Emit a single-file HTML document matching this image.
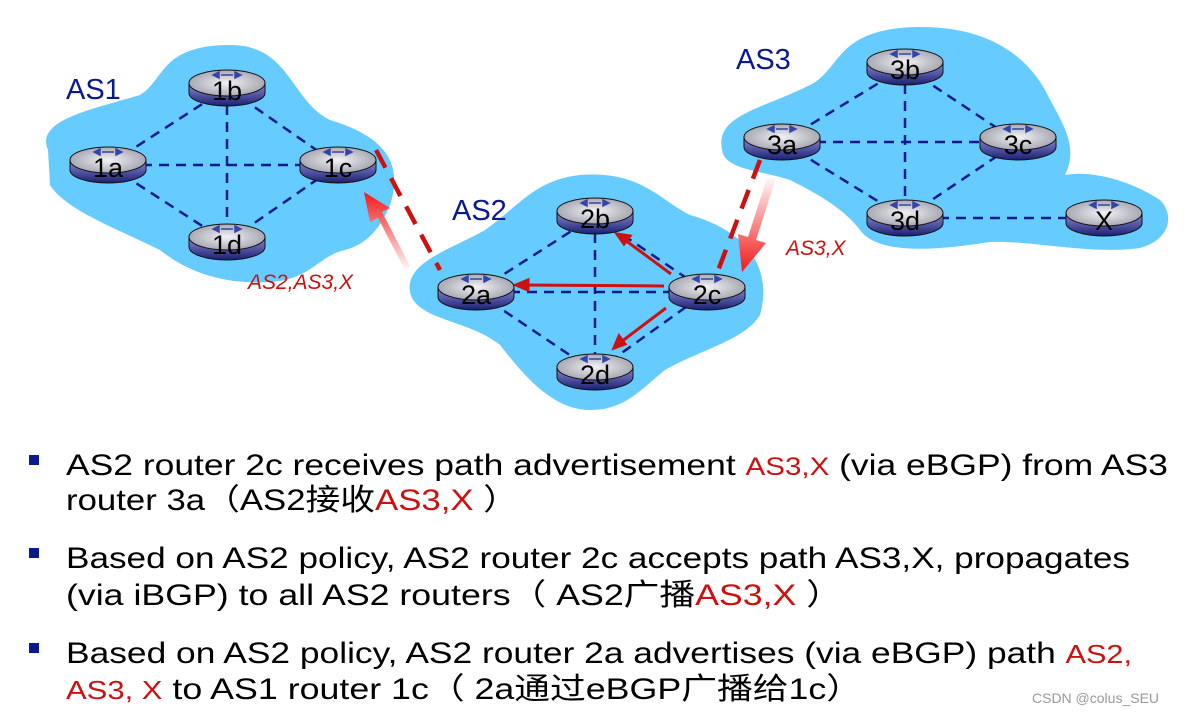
<!DOCTYPE html>
<html><head><meta charset="utf-8"><style>html,body{margin:0;padding:0;background:#fff}svg{display:block}</style></head><body>
<svg width="1192" height="717" viewBox="0 0 1192 717" xmlns="http://www.w3.org/2000/svg">
<defs>
<linearGradient id="rb" x1="0" y1="0" x2="0" y2="1"><stop offset="0" stop-color="#8a8fd8"/><stop offset="1" stop-color="#1c1f70"/></linearGradient>
<radialGradient id="rt" cx="0.5" cy="0.5" r="0.6"><stop offset="0" stop-color="#f2f2f6"/><stop offset="1" stop-color="#9a9aa6"/></radialGradient>
<linearGradient id="ga" x1="0" y1="1" x2="0" y2="0"><stop offset="0" stop-color="#fff"/><stop offset="1" stop-color="#f21818"/></linearGradient>
<linearGradient id="gb" x1="0" y1="0" x2="0" y2="1"><stop offset="0" stop-color="#fff"/><stop offset="1" stop-color="#f21818"/></linearGradient>
<g id="r">
<path d="M-38,0 L-38,10 A38,13 0 0 0 38,10 L38,0 Z" fill="url(#rb)" stroke="#111" stroke-width="1"/>
<ellipse cx="0" cy="0" rx="38" ry="13" fill="url(#rt)" stroke="#111" stroke-width="1"/>
<path d="M-14,-8 l6,-3 v6 z M14,-8 l-6,-3 v6 z M-6,-8 h12" fill="#3344aa" stroke="#3344aa" stroke-width="1.5"/>
</g>
</defs>
<path d="M48,150 C35,120 90,110 140,95 C165,80 160,45 230,45 C290,45 290,100 330,120 C380,135 405,160 390,205 C380,230 365,245 345,250 C320,255 310,280 270,282 C220,285 185,270 160,250 C120,230 65,210 50,185 Z" fill="#66ccff"/>
<path d="M410,292 C405,262 450,250 485,230 C520,205 535,180 580,175 C640,170 660,200 690,215 C760,235 770,280 760,315 C745,340 700,350 665,370 C640,390 625,410 590,410 C550,410 520,370 500,345 C470,320 415,320 410,292 Z" fill="#66ccff"/>
<path d="M722,150 C715,115 760,110 810,85 C840,70 835,35 900,28 C970,22 1020,45 1045,90 C1060,120 1080,145 1065,175 C1090,170 1130,180 1160,200 C1175,215 1170,240 1140,248 C1090,255 1030,240 990,242 C950,248 880,258 860,230 C845,210 820,195 790,180 C760,170 725,170 722,150 Z" fill="#66ccff"/>
<g stroke="#0a1a8c" stroke-width="2.5" stroke-dasharray="10,7" fill="none">
<line x1="108" y1="165" x2="338" y2="165"/><line x1="227" y1="88" x2="227" y2="242"/>
<line x1="108" y1="165" x2="227" y2="88"/><line x1="227" y1="88" x2="338" y2="165"/>
<line x1="108" y1="165" x2="227" y2="242"/><line x1="227" y1="242" x2="338" y2="165"/>
<line x1="476" y1="292" x2="707" y2="292"/><line x1="595" y1="216" x2="595" y2="372"/>
<line x1="476" y1="292" x2="595" y2="216"/><line x1="595" y1="216" x2="707" y2="292"/>
<line x1="476" y1="292" x2="595" y2="372"/><line x1="595" y1="372" x2="707" y2="292"/>
<line x1="782" y1="142" x2="1018" y2="142"/><line x1="905" y1="67" x2="905" y2="218"/>
<line x1="782" y1="142" x2="905" y2="67"/><line x1="905" y1="67" x2="1018" y2="142"/>
<line x1="782" y1="142" x2="905" y2="218"/><line x1="905" y1="218" x2="1018" y2="142"/>
<line x1="905" y1="218" x2="1104" y2="218"/>
</g>
<g stroke="#cc1111" stroke-width="4.5" stroke-dasharray="20,12" fill="none">
<line x1="376" y1="150" x2="440" y2="270"/>
<line x1="760" y1="160" x2="716" y2="276"/>
</g>
<path d="M400,272 L372,218 L364,222 L358,192 L384,208 L376,212 L404,266 Z" fill="url(#ga)" transform="translate(6,0)"/>
<path d="M776,178 L756,240 L766,243 L742,272 L738,234 L748,237 L768,175 Z" fill="url(#gb)"/>
<g stroke="#cc1111" stroke-width="3" fill="#cc1111">
<line x1="664" y1="286" x2="522" y2="285"/><path d="M516,285 l12,-5 v10 z"/>
<line x1="671" y1="274" x2="625" y2="240"/><path d="M617,234 l13,2 l-6,8 z"/>
<line x1="666" y1="308" x2="621" y2="342"/><path d="M614,348 l5,-12 l6,8 z"/>
</g>
<g font-family="Liberation Sans, sans-serif" font-size="27" text-anchor="middle" fill="#000">
<use href="#r" x="108" y="160"/><text x="108" y="177">1a</text>
<use href="#r" x="227" y="83"/><text x="227" y="100">1b</text>
<use href="#r" x="338" y="160"/><text x="338" y="177">1c</text>
<use href="#r" x="227" y="237"/><text x="227" y="254">1d</text>
<use href="#r" x="476" y="287"/><text x="476" y="304">2a</text>
<use href="#r" x="595" y="211"/><text x="595" y="228">2b</text>
<use href="#r" x="707" y="287"/><text x="707" y="304">2c</text>
<use href="#r" x="595" y="367"/><text x="595" y="384">2d</text>
<use href="#r" x="782" y="137"/><text x="782" y="154">3a</text>
<use href="#r" x="905" y="62"/><text x="905" y="79">3b</text>
<use href="#r" x="1018" y="137"/><text x="1018" y="154">3c</text>
<use href="#r" x="905" y="213"/><text x="905" y="230">3d</text>
<use href="#r" x="1104" y="213"/><text x="1104" y="230">X</text>
</g>
<g font-family="Liberation Sans, sans-serif" font-size="29" fill="#0a1a8c">
<text x="66" y="99">AS1</text><text x="452" y="220">AS2</text><text x="736" y="69">AS3</text>
</g>
<g font-family="Liberation Sans, sans-serif" font-size="21" font-style="italic" fill="#cc1111">
<text x="248" y="289">AS2,AS3,X</text><text x="786" y="255">AS3,X</text>
</g>
<g fill="#0a1a8c"><rect x="29" y="455" width="10" height="10"/><rect x="29" y="548" width="10" height="10"/><rect x="29" y="643" width="10" height="10"/></g>
<g font-family="Liberation Sans, 'Noto Sans CJK SC', sans-serif" font-size="30" fill="#000">
<text x="66" y="475" textLength="1102" lengthAdjust="spacingAndGlyphs">AS2 router 2c receives path advertisement <tspan fill="#cc1111" font-size="25">AS3,X</tspan> (via eBGP) from AS3</text>
<text x="66" y="510" textLength="452" lengthAdjust="spacingAndGlyphs">router 3a（AS2接收<tspan fill="#cc1111">AS3,X</tspan> ）</text>
<text x="66" y="568" textLength="1064" lengthAdjust="spacingAndGlyphs">Based on AS2 policy, AS2 router 2c accepts path AS3,X, propagates</text>
<text x="66" y="605" textLength="776" lengthAdjust="spacingAndGlyphs">(via iBGP) to all AS2 routers（ AS2广播<tspan fill="#cc1111">AS3,X</tspan> ）</text>
<text x="66" y="663" textLength="1066" lengthAdjust="spacingAndGlyphs">Based on AS2 policy, AS2 router 2a advertises (via eBGP)  path <tspan fill="#cc1111" font-size="26">AS2,</tspan></text>
<text x="66" y="699" textLength="796" lengthAdjust="spacingAndGlyphs"><tspan fill="#cc1111" font-size="26">AS3, X</tspan>   to AS1 router 1c（ 2a通过eBGP广播给1c）</text>
</g>
<text x="1032" y="703" font-family="Liberation Sans, sans-serif" font-size="14" fill="#999">CSDN @colus_SEU</text>
</svg>
</body></html>
